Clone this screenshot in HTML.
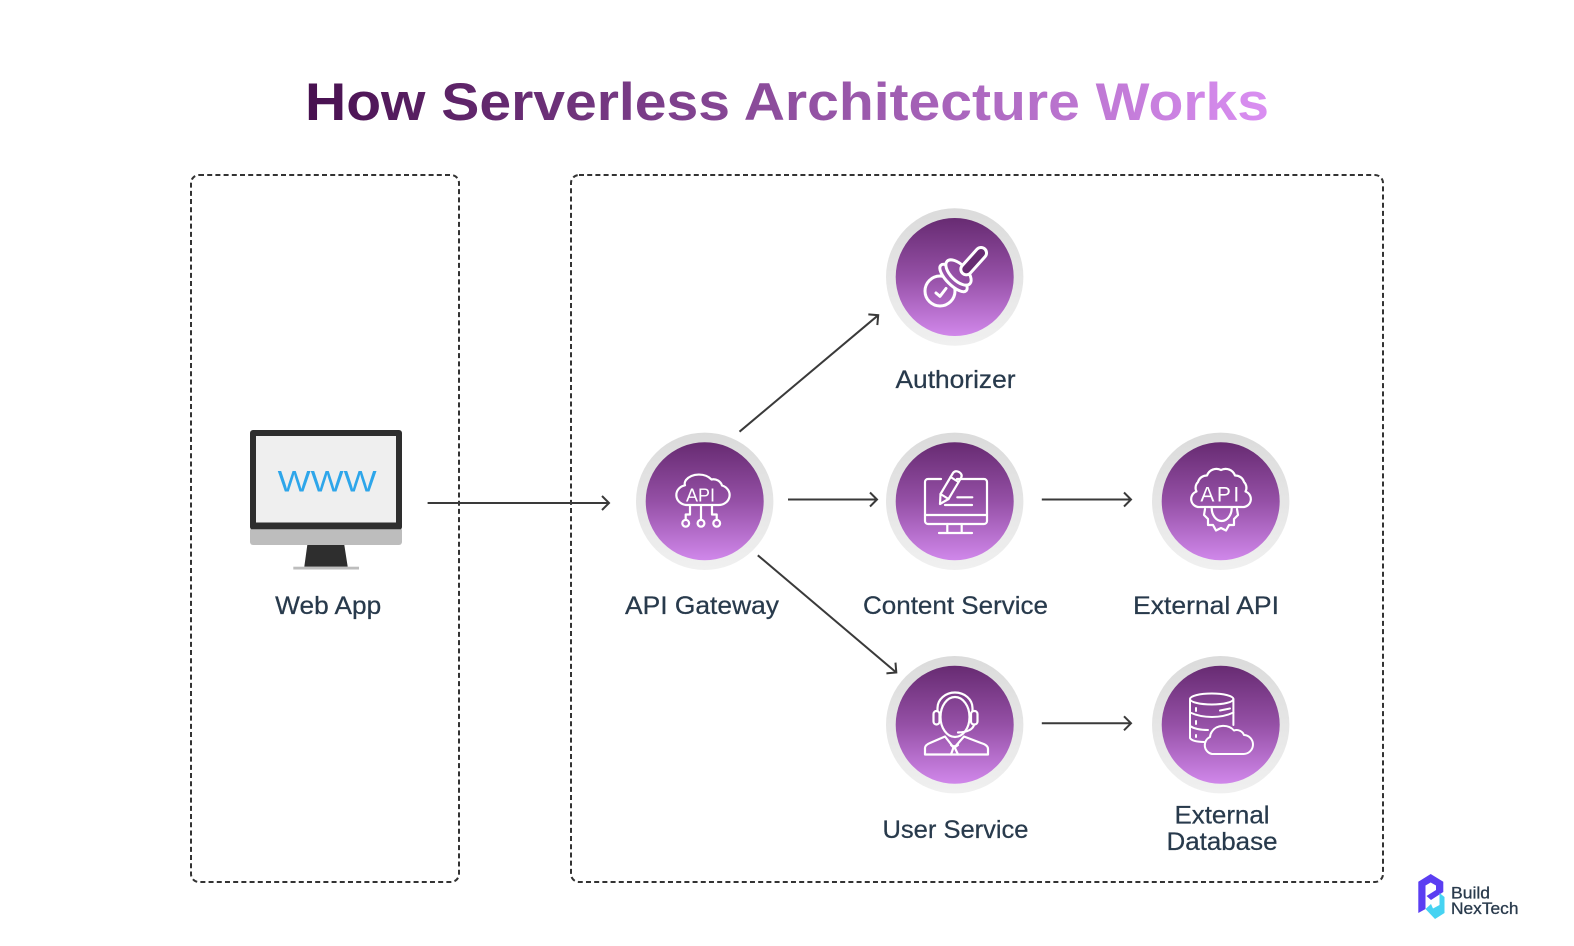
<!DOCTYPE html>
<html><head><meta charset="utf-8"><style>
html,body{margin:0;padding:0;background:#fff}
svg{display:block}
text{font-family:"Liberation Sans",sans-serif}
.l{font-size:25px;fill:#283a4c;text-anchor:middle;stroke:#283a4c;stroke-width:.25}
.i{fill:none;stroke:#fff;stroke-width:2.2;stroke-linecap:round;stroke-linejoin:round}
.a{fill:none;stroke:#3a3a3a;stroke-width:2;marker-end:url(#m)}
.o{fill:url(#ring)}
.c{fill:url(#inner)}
</style></head><body>
<svg xmlns="http://www.w3.org/2000/svg" width="1574" height="946" viewBox="0 0 1574 946">
<defs>
<linearGradient id="t" gradientUnits="userSpaceOnUse" x1="305" y1="0" x2="1269" y2="0"><stop offset="0" stop-color="#47104f"/><stop offset=".5" stop-color="#8f4f9f"/><stop offset="1" stop-color="#da8ff2"/></linearGradient>
<linearGradient id="ring" x1="0" y1="0" x2="0" y2="1"><stop offset="0" stop-color="#dbdbdb"/><stop offset="1" stop-color="#f0f0f0"/></linearGradient>
<linearGradient id="inner" x1="0" y1="0" x2="0" y2="1"><stop offset="0" stop-color="#672b72"/><stop offset=".5" stop-color="#9550a6"/><stop offset="1" stop-color="#d087ea"/></linearGradient>
<linearGradient id="g1" gradientUnits="userSpaceOnUse" x1="0" y1="218" x2="0" y2="336"><stop offset="0" stop-color="#672b72"/><stop offset=".5" stop-color="#9550a6"/><stop offset="1" stop-color="#d087ea"/></linearGradient>
<linearGradient id="g2" gradientUnits="userSpaceOnUse" x1="0" y1="666" x2="0" y2="784"><stop offset="0" stop-color="#672b72"/><stop offset=".5" stop-color="#9550a6"/><stop offset="1" stop-color="#d087ea"/></linearGradient>
<marker id="m" markerUnits="userSpaceOnUse" markerWidth="20" markerHeight="20" refX="10" refY="10" orient="auto" overflow="visible"><path d="M3 3L10 10L3 17" fill="none" stroke="#3a3a3a" stroke-width="2"/></marker>
</defs>
<rect width="1574" height="946" fill="#fff"/>
<text x="305" y="120" font-size="53" font-weight="700" fill="url(#t)" textLength="964" lengthAdjust="spacingAndGlyphs">How Serverless Architecture Works</text>

<rect x="191" y="175" width="268" height="707" rx="8" fill="none" stroke="#333" stroke-width="2" stroke-dasharray="5 3.2"/>
<rect x="571" y="175" width="812" height="707" rx="8" fill="none" stroke="#333" stroke-width="2" stroke-dasharray="5 3.2"/>

<!-- monitor -->
<rect x="250" y="430" width="152" height="100" rx="3" fill="#2e2e2e"/>
<rect x="256" y="436" width="140" height="86.5" fill="#efefef"/>
<path d="M250 529.3H402V542a3 3 0 0 1-3 3H253a3 3 0 0 1-3-3Z" fill="#bdbdbd"/>
<path d="M307.3 545H344.3L347.7 566.7H304.3Z" fill="#2e2e2e"/>
<rect x="293.3" y="566.7" width="65.7" height="2.8" fill="#bdbdbd"/>
<text x="277.7" y="491.3" font-size="30" fill="#2ea6ea" textLength="99" lengthAdjust="spacingAndGlyphs">WWW</text>

<!-- circles -->
<circle class="o" cx="954.7" cy="277" r="68.7"/><circle class="c" cx="954.7" cy="277" r="59"/>
<circle class="o" cx="704.7" cy="501.3" r="68.7"/><circle class="c" cx="704.7" cy="501.3" r="59"/>
<circle class="o" cx="954.7" cy="501.3" r="68.7"/><circle class="c" cx="954.7" cy="501.3" r="59"/>
<circle class="o" cx="1220.7" cy="501.3" r="68.7"/><circle class="c" cx="1220.7" cy="501.3" r="59"/>
<circle class="o" cx="954.7" cy="724.7" r="68.7"/><circle class="c" cx="954.7" cy="724.7" r="59"/>
<circle class="o" cx="1220.7" cy="724.7" r="68.7"/><circle class="c" cx="1220.7" cy="724.7" r="59"/>

<!-- authorizer icon -->
<g class="i" style="stroke-width:3">
<circle cx="940" cy="291" r="15"/>
<path d="M936 293L940 296.3L946 288.5"/>
<ellipse cx="953.5" cy="278" rx="18" ry="7" transform="rotate(45 953.5 278)" fill="url(#g1)"/>
<ellipse cx="958.5" cy="272.5" rx="16" ry="8" transform="rotate(45 958.5 272.5)" fill="url(#g1)"/>
<rect x="-5.5" y="-19" width="11" height="33" rx="5.5" transform="translate(972 263) rotate(42)" fill="url(#g1)"/>
</g>

<!-- api gateway icon -->
<g class="i">
<path d="M686 505H718A11 10 0 0 0 722 485.5A9 9 0 0 0 711.5 479.5A15.5 12 0 0 0 686 480Q684 483 685 485.3A11 10 0 0 0 686 505Z"/>
<path d="M701 505V519.5M690 505V514.5H685.7V519.8M712 505V514.5H716.7V519.8"/>
<circle cx="685.7" cy="523.3" r="3.4"/><circle cx="701" cy="523.3" r="3.4"/><circle cx="716.7" cy="523.3" r="3.4"/>
</g>
<text x="700.5" y="501.5" font-size="18" fill="#fff" text-anchor="middle">API</text>

<!-- content service icon -->
<g class="i">
<path d="M941 479H928A3 3 0 0 0 925 482V521A3 3 0 0 0 928 524H984A3 3 0 0 0 987 521V482A3 3 0 0 0 984 479H957"/>
<path d="M925 515H987M947.3 524V533M961.7 524V533M939 533H972"/>
<path d="M957.3 497.3H972.3M945 505H972"/>
<path d="M940 504L940.5 494L953 473Q955 470 959 472Q963 474.5 961 478L948.5 499Z"/>
<path d="M940.5 494L948.5 499M950.5 477L958.5 482"/>
</g>

<!-- external api icon -->
<g class="i">
<path d="M1200 507A8 8 0 0 1 1196.5 491.5A8 8 0 0 1 1198 482A9 9 0 0 1 1207 475.5A10 10 0 0 1 1221 470A10 10 0 0 1 1235 475.5A9 9 0 0 1 1244 482A8 8 0 0 1 1245.5 491.5A8 8 0 0 1 1242 507Z"/>
<path d="M1205 509L1204 515L1208 519L1208 525L1213 525L1216 530.5L1221 528L1226 530.5L1229 525L1234 525L1234 519L1238 515L1237 509"/>
<path d="M1211.7 508A10 13 0 0 0 1231.7 508"/>
</g>
<text x="1221" y="501.5" font-size="21" fill="#fff" text-anchor="middle" letter-spacing="2.5">API</text>

<!-- user service icon -->
<g class="i">
<ellipse cx="955" cy="717" rx="14.5" ry="20"/>
<path d="M937.5 711V708A17.5 15.5 0 0 1 972.5 708V711"/>
<rect x="933.5" y="711" width="6" height="13.5" rx="3"/>
<rect x="971" y="711" width="6.5" height="13.5" rx="3"/>
<path d="M974 725Q972 732 958 732.5"/>
<path d="M925 754.5V748Q925 745 930 743L945 736.5L954 748L964 736.5L981 743Q988 745 988 749V754.5Z"/>
<path d="M951 754.5L954 746L958 754.5M951 745L954 748L958 745"/>
</g>

<!-- database icon -->
<g class="i" style="stroke-width:2">
<ellipse cx="1211.7" cy="699" rx="21.7" ry="5.5"/>
<path d="M1190 699V738Q1192 741.7 1204 742M1233.4 699V725"/>
<path d="M1190 712.5Q1200 717 1212 717T1233.4 712.5M1190 726Q1196 730 1208 730"/>
<path d="M1220 710.5L1230 708.5"/>
<path d="M1196 708V711M1196 721V724M1196 735V737"/>
<path d="M1212 754H1243A9.5 9.5 0 0 0 1244 735A8 8 0 0 0 1234 730.5A13 11 0 0 0 1212 731.5A11 11 0 0 0 1210 737A9 9 0 0 0 1212 754Z" fill="url(#g2)"/>
</g>

<!-- arrows -->
<line class="a" x1="427.6" y1="503" x2="609" y2="503"/>
<line class="a" x1="739.5" y1="431.7" x2="878.2" y2="315.2"/>
<line class="a" x1="788" y1="499.5" x2="877" y2="499.5"/>
<line class="a" x1="1041.8" y1="499.5" x2="1131" y2="499.5"/>
<line class="a" x1="757.8" y1="555.3" x2="896.3" y2="672.5"/>
<line class="a" x1="1041.8" y1="723.3" x2="1131" y2="723.3"/>

<!-- labels -->
<text class="l" x="328.2" y="614" textLength="106" lengthAdjust="spacingAndGlyphs">Web App</text>
<text class="l" x="702" y="614" textLength="154" lengthAdjust="spacingAndGlyphs">API Gateway</text>
<text class="l" x="955.5" y="614" textLength="185" lengthAdjust="spacingAndGlyphs">Content Service</text>
<text class="l" x="1206" y="614" textLength="146" lengthAdjust="spacingAndGlyphs">External API</text>
<text class="l" x="955.5" y="388" textLength="120" lengthAdjust="spacingAndGlyphs">Authorizer</text>
<text class="l" x="955.5" y="838" textLength="146" lengthAdjust="spacingAndGlyphs">User Service</text>
<text class="l" x="1222" y="823.7" textLength="95" lengthAdjust="spacingAndGlyphs">External</text>
<text class="l" x="1222" y="850" textLength="111" lengthAdjust="spacingAndGlyphs">Database</text>

<!-- logo -->
<path d="M1418.3 881.7L1430.7 874L1443.3 881.7V892L1431 900L1426.5 896L1436 890V885.5L1430.7 882.5L1425.5 885.5V909L1418.3 913Z" fill="#5b3ef2"/>
<path d="M1425.5 909L1435 919L1444.5 913V897L1439.5 893V905L1433 908.5L1431 904L1425.5 909Z" fill="#46d3f2"/>
<text x="1451" y="898.3" font-size="17" font-weight="400" fill="#2a3b4d" stroke="#2a3b4d" stroke-width=".3" textLength="39" lengthAdjust="spacingAndGlyphs">Build</text>
<text x="1451" y="914" font-size="17" font-weight="400" fill="#2a3b4d" stroke="#2a3b4d" stroke-width=".3" textLength="67.5" lengthAdjust="spacingAndGlyphs">NexTech</text>
</svg>
</body></html>
